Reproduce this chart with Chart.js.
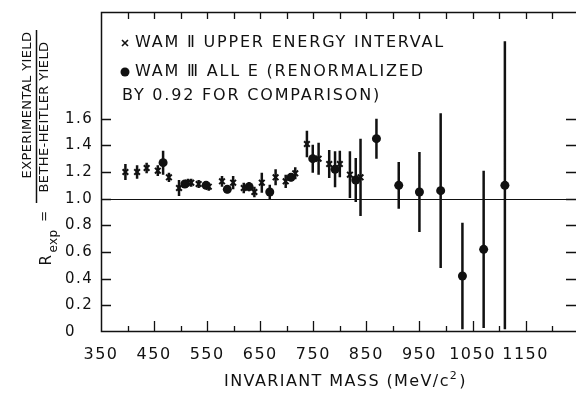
<!DOCTYPE html>
<html>
<head>
<meta charset="utf-8">
<script src="https://cdn.jsdelivr.net/npm/chart.js@4"></script>
<style>
html, body { margin: 0; padding: 0; background: #fff; }
</style>
</head>
<body>
<canvas id="massChart" width="582" height="396"></canvas>
<script>
// WAM II, upper energy interval (x markers)
const crossMass = [396, 418, 436, 457, 478, 497, 514, 520, 534, 553, 578, 599, 619, 639, 653, 679, 698, 716, 738, 760, 780, 800, 819, 839];
const crossRatio = [1.20, 1.20, 1.23, 1.21, 1.16, 1.08, 1.12, 1.12, 1.11, 1.09, 1.13, 1.12, 1.08, 1.05, 1.12, 1.16, 1.13, 1.19, 1.41, 1.30, 1.26, 1.26, 1.18, 1.16];
const crossErr = [0.06, 0.05, 0.04, 0.04, 0.035, 0.06, 0.03, 0.03, 0.03, 0.03, 0.04, 0.05, 0.04, 0.04, 0.075, 0.06, 0.05, 0.045, 0.10, 0.12, 0.105, 0.10, 0.175, 0.29];

// WAM III, all E, renormalized by 0.92 (filled circles)
const circleMass = [467, 508, 548, 588, 629, 668, 708, 749, 791, 830, 869, 911, 950, 990, 1031, 1071, 1111];
const circleRatio = [1.27, 1.11, 1.10, 1.07, 1.09, 1.05, 1.16, 1.30, 1.22, 1.14, 1.45, 1.10, 1.05, 1.06, 0.42, 0.62, 1.10];
const circleErr = [0.09, 0.025, 0.025, 0.03, 0.035, 0.055, 0.03, 0.105, 0.135, 0.165, 0.15, 0.175, 0.30, 0.58, 0.40, 0.59, 1.08];

const xTickLabels = [350, 450, 550, 650, 750, 850, 950, 1050, 1150];
const yTickLabels = [0, 0.2, 0.4, 0.6, 0.8, 1.0, 1.2, 1.4, 1.6];

const ink = '#111';
const fontFamily = '"DejaVu Sans", sans-serif';

const toPoints = (xs, ys) => xs.map((x, i) => ({ x: x, y: ys[i] }));

const framePlugin = {
  id: 'frame',
  beforeDraw(chart) {
    // wider spacing for the tick labels, like the lettering of the original
    chart.ctx.letterSpacing = '1.5px';
  },
  beforeDatasetsDraw(chart) {
    const { ctx, chartArea: a, scales: { x, y } } = chart;
    ctx.save();
    ctx.strokeStyle = ink;

    // left, bottom and top edges of the plot (right edge falls off the picture)
    ctx.lineWidth = 1.5;
    ctx.beginPath();
    ctx.moveTo(a.right, a.top + 0.5);
    ctx.lineTo(a.left + 0.5, a.top + 0.5);
    ctx.lineTo(a.left + 0.5, a.bottom - 0.5);
    ctx.lineTo(a.right, a.bottom - 0.5);
    ctx.stroke();

    // ticks pointing inward
    ctx.lineWidth = 1.3;
    ctx.beginPath();
    for (let v = 400; v < x.max; v += 50) {
      const px = Math.round(x.getPixelForValue(v)) + 0.5;
      const major = (v - 350) % 100 === 0;
      ctx.moveTo(px, a.bottom);
      ctx.lineTo(px, a.bottom - (major ? 11 : 6));
      ctx.moveTo(px, a.top);
      ctx.lineTo(px, a.top + 7);
    }
    yTickLabels.forEach(v => {
      if (v === 0) return;
      const py = Math.round(y.getPixelForValue(v)) + 0.5;
      ctx.moveTo(a.left, py);
      ctx.lineTo(a.left + 10, py);
      ctx.moveTo(a.right, py);
      ctx.lineTo(a.right - 10, py);
    });
    ctx.stroke();

    // reference line at R = 1
    const one = Math.round(y.getPixelForValue(1)) + 0.5;
    ctx.lineWidth = 1;
    ctx.beginPath();
    ctx.moveTo(a.left, one);
    ctx.lineTo(a.right, one);
    ctx.stroke();

    // error bars
    ctx.save();
    ctx.beginPath();
    ctx.rect(a.left, a.top, a.right - a.left, a.bottom - a.top);
    ctx.clip();
    ctx.lineWidth = 2.5;
    ctx.beginPath();
    const bars = (ms, rs, es) => ms.forEach((m, i) => {
      const px = x.getPixelForValue(m);
      ctx.moveTo(px, y.getPixelForValue(rs[i] - es[i]));
      ctx.lineTo(px, y.getPixelForValue(rs[i] + es[i]));
    });
    bars(crossMass, crossRatio, crossErr);
    bars(circleMass, circleRatio, circleErr);
    ctx.stroke();
    ctx.restore();

    ctx.restore();
  },
  afterDraw(chart) {
    const { ctx } = chart;
    ctx.save();
    ctx.fillStyle = ink;
    ctx.strokeStyle = ink;
    ctx.letterSpacing = '1.8px';
    ctx.textBaseline = 'middle';

    // legend
    ctx.font = '16px ' + fontFamily;
    ctx.lineWidth = 1.6;
    ctx.beginPath();
    ctx.moveTo(122, 40); ctx.lineTo(128, 46);
    ctx.moveTo(128, 40); ctx.lineTo(122, 46);
    ctx.stroke();
    ctx.beginPath();
    ctx.arc(125, 72, 4.5, 0, Math.PI * 2);
    ctx.fill();
    ctx.textAlign = 'left';
    ctx.fillText('WAM \u2161 UPPER ENERGY INTERVAL', 135, 43);
    ctx.fillText('WAM \u2162 ALL E (RENORMALIZED', 135, 72);
    ctx.fillText('BY 0.92 FOR COMPARISON)', 122, 96);

    // x axis title
    ctx.letterSpacing = '1.4px';
    const t1 = 'INVARIANT MASS (MeV/c';
    const w1 = ctx.measureText(t1).width;
    ctx.font = '11px ' + fontFamily;
    const w2 = ctx.measureText('2').width;
    ctx.font = '16px ' + fontFamily;
    const w3 = ctx.measureText(')').width;
    let tx = 345 - (w1 + w2 + w3) / 2;
    ctx.fillText(t1, tx, 382);
    ctx.font = '11px ' + fontFamily;
    ctx.fillText('2', tx + w1, 376);
    ctx.font = '16px ' + fontFamily;
    ctx.fillText(')', tx + w1 + w2 + 1, 382);

    // y axis title, drawn rotated
    ctx.letterSpacing = '0.4px';
    ctx.textAlign = 'center';
    const rotText = (txt, cx, cy, size) => {
      ctx.save();
      ctx.translate(cx, cy);
      ctx.rotate(-Math.PI / 2);
      ctx.font = size + 'px ' + fontFamily;
      ctx.fillText(txt, 0, 0);
      ctx.restore();
    };
    rotText('EXPERIMENTAL YIELD', 28, 105, 13);
    rotText('BETHE-HEITLER YIELD', 45, 117, 13);
    ctx.lineWidth = 1.5;
    ctx.beginPath();
    ctx.moveTo(36.5, 30);
    ctx.lineTo(36.5, 203);
    ctx.stroke();
    rotText('R', 47, 260, 15);
    rotText('exp', 54, 241, 12);
    rotText('=', 45, 216, 13);

    ctx.restore();
    ctx.letterSpacing = '0px';
  }
};

new Chart(document.getElementById('massChart').getContext('2d'), {
  type: 'scatter',
  data: {
    datasets: [{
      label: 'WAM II upper energy interval',
      data: toPoints(crossMass, crossRatio),
      pointStyle: 'crossRot',
      pointRadius: 4,
      borderColor: ink,
      borderWidth: 2
    }, {
      label: 'WAM III all E',
      data: toPoints(circleMass, circleRatio),
      pointStyle: 'circle',
      pointRadius: 4.5,
      backgroundColor: ink,
      borderColor: ink,
      borderWidth: 0
    }]
  },
  options: {
    responsive: false,
    animation: false,
    devicePixelRatio: 1,
    layout: { padding: { left: 65, top: 10, right: 0, bottom: 0 } },
    plugins: {
      legend: { display: false },
      tooltip: { enabled: false }
    },
    scales: {
      x: {
        type: 'linear',
        min: 350,
        max: 1245,
        afterBuildTicks: s => { s.ticks = xTickLabels.map(v => ({ value: v })); },
        afterFit: s => { s.height = 64; },
        grid: { display: false },
        border: { display: false },
        ticks: {
          color: ink,
          font: { family: fontFamily, size: 16 },
          padding: 5,
          maxRotation: 0,
          autoSkip: false,
          callback: v => String(v)
        }
      },
      y: {
        min: 0,
        max: 2.4,
        afterBuildTicks: s => { s.ticks = yTickLabels.map(v => ({ value: v })); },
        afterFit: s => { s.width = 36; },
        grid: { display: false },
        border: { display: false },
        ticks: {
          color: ink,
          font: { family: fontFamily, size: 15 },
          crossAlign: 'far',
          callback: v => v === 0 ? '0' : v.toFixed(1)
        }
      }
    }
  },
  plugins: [framePlugin]
});
</script>
</body>
</html>
